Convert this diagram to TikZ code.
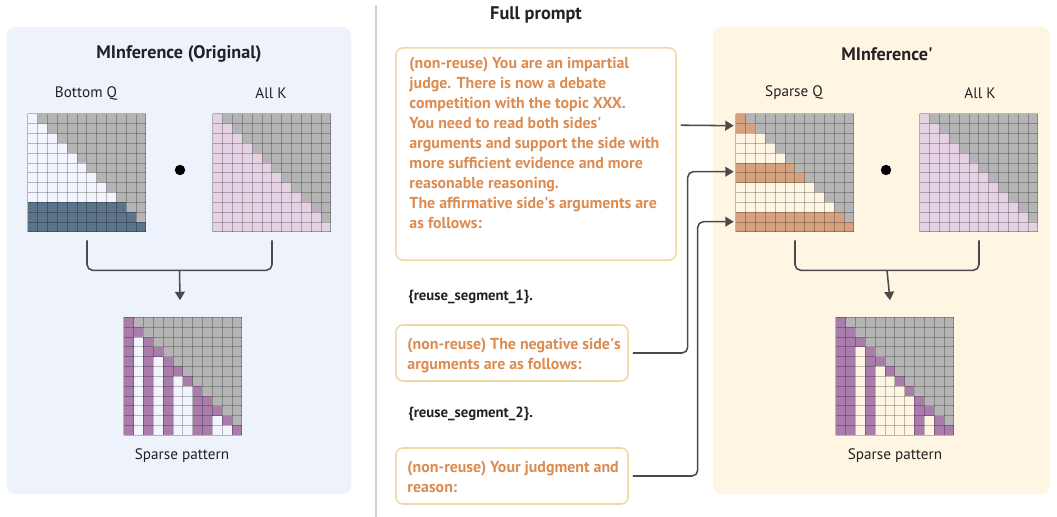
\documentclass[tikz,border=0pt]{standalone}
\usepackage{fontspec}
\setmainfont{PT Sans}
\usetikzlibrary{arrows.meta,calc,positioning}

\definecolor{panelblue}{HTML}{EEF2FB}
\definecolor{panelcream}{HTML}{FEF6E3}
\definecolor{maskgray}{HTML}{B4B4B4}
\definecolor{qlight}{HTML}{F2F5FD}
\definecolor{qdark}{HTML}{5B7489}
\definecolor{kpink}{HTML}{E4D1E4}
\definecolor{sparsepurple}{HTML}{A97CAC}
\definecolor{qorange}{HTML}{D6A17F}
\definecolor{creamcell}{HTML}{FEF6E3}
\definecolor{promptorange}{HTML}{DC8C50}
\definecolor{promptedge}{HTML}{EDD9A5}
\definecolor{linkgray}{HTML}{4A4A4A}
\definecolor{sepgray}{HTML}{CFCFCF}
\definecolor{titleblack}{HTML}{222222}

\tikzset{
  panel/.style={fill=#1, draw=none, rounded corners=6pt, inner sep=0pt},
  gridbox/.style={minimum size=2.95cm, inner sep=0pt, draw=none},
  cells/.style={shift={(#1.north west)}, x=0.24583cm, y=-0.24583cm},
  gridline/.style={draw=black, draw opacity=0.25, line width=0.4pt},
  paneltitle/.style={font=\bfseries\fontsize{12.9}{15}\selectfont, text=titleblack},
  gridlabel/.style={font=\fontsize{10.8}{13}\selectfont, text=titleblack},
  link/.style={draw=linkgray, line width=1.1pt, rounded corners=4pt},
  tip/.style={-{Triangle[length=6pt,width=7pt]}},
  promptbox/.style={draw=promptedge, line width=1.1pt, rounded corners=5pt, fill=white, inner sep=0pt},
  prompttext/.style={font=\bfseries\fontsize{11.3}{14.2}\selectfont, text=promptorange, align=left, inner sep=0pt},
  reusetext/.style={font=\bfseries\fontsize{10.5}{14.2}\selectfont, text=titleblack, inner sep=0pt},
  dotmark/.style={circle, fill=black, minimum size=0.26cm, inner sep=0pt},
}

% lower triangle (with diagonal) on a grey mask
\newcommand{\maskbase}[2]{%
  \begin{scope}[cells=#1]
    \fill[maskgray] (0,0) rectangle (12,12);
    \fill[#2] (0,0) -- (1,0) foreach \k in {1,...,11}{ -- (\k,\k) -- ({\k+1},\k)} -- (12,12) -- (0,12) -- cycle;
  \end{scope}}
\newcommand{\markrows}[3]{%
  \begin{scope}[cells=#1]
    \foreach \r in {#3} \fill[#2] (0,\r) rectangle ({\r+1},{\r+1});
  \end{scope}}
\newcommand{\markcols}[3]{%
  \begin{scope}[cells=#1]
    \foreach \c in {#3} \fill[#2] (\c,\c) rectangle ({\c+1},12);
    \foreach \k in {0,...,11} \fill[#2] (\k,\k) rectangle ({\k+1},{\k+1});
  \end{scope}}
\newcommand{\masklines}[1]{%
  \begin{scope}[cells=#1]
    \foreach \k in {0,...,12} {
      \draw[gridline] (\k,0) -- (\k,12);
      \draw[gridline] (0,\k) -- (12,\k);
    }
  \end{scope}}

\begin{document}
\begin{tikzpicture}[x=0.025cm, y=-0.025cm]
\useasboundingbox (0,0) rectangle (1057,517);

% panels
\node[panel=panelblue, minimum width=8.6cm, minimum height=11.675cm] (orig) at (179,260.5) {};
\node[panel=panelcream, minimum width=8.425cm, minimum height=11.675cm] (ours) at (881.5,260.5) {};
\draw[sepgray, line width=1.6pt] (376,5) -- (376,517);

% left: MInference (Original)
\node[paneltitle] (origtitle) at (179,54) {MInference (Original)};
\node[gridlabel] (bqlabel) at (86,93) {Bottom Q};
\node[gridlabel] (aklabel) at (271,93) {All K};
\node[gridbox] (bq) at (87,173) {};
\node[gridbox] (ak) at (272,173) {};
\node[dotmark] (dotl) at (180,170) {};
\node[gridbox] (sp) at (183,376.5) {};
\node[gridlabel] (splabel) at (182,456) {Sparse pattern};

\maskbase{bq}{qlight}
\markrows{bq}{qdark}{9,10,11}
\masklines{bq}
\maskbase{ak}{kpink}
\masklines{ak}
\maskbase{sp}{qlight}
\markcols{sp}{sparsepurple}{0,2,4,7,8}
\masklines{sp}

\coordinate (jl) at ($(bq.south)!0.5!(ak.south)+(0,38)$);
\draw[link] ($(bq.south)+(0,8)$) |- (jl) -| ($(ak.south)+(0,8)$);
\draw[link, tip] (jl) -- ($(sp.north)+(-3,-17)$);

% middle: full prompt
\node[font=\bfseries\fontsize{13}{15}\selectfont, text=titleblack] (fulltitle) at (536,15) {Full prompt};
\node[promptbox, minimum width=7cm, minimum height=5.3cm] (p1) at (536,154) {};
\node[prompttext, anchor=north west] (t1) at ($(p1.north west)+(14,10)$) {(non-reuse) You are an impartial\\
judge. There is now a debate\\
competition with the topic XXX.\\
You need to read both sides\textquotesingle\\
arguments and support the side with\\
more sufficient evidence and more\\
reasonable reasoning.\\
The affirmative side\textquotesingle s arguments are\\
as follows:};
\node[reusetext, anchor=west] (r1) at (408,297) {\{reuse\_segment\_1\}.};
\node[promptbox, minimum width=5.8cm, minimum height=1.4cm] (p2) at (512,353) {};
\node[prompttext, anchor=north west] (t2) at ($(p2.north west)+(12,14)$) {(non-reuse) The negative side\textquotesingle s\\
arguments are as follows:};
\node[reusetext, anchor=west] (r2) at (408,414) {\{reuse\_segment\_2\}.};
\node[promptbox, minimum width=5.8cm, minimum height=1.4cm] (p3) at (512,476) {};
\node[prompttext, anchor=north west] (t3) at ($(p3.north west)+(12,14)$) {(non-reuse) Your judgment and\\
reason:};

% right: MInference'
\node[paneltitle] (ourstitle) at (887,54) {MInference\textquotesingle};
\node[gridlabel] (sqlabel) at (794,93) {Sparse Q};
\node[gridlabel] (ak2label) at (980,93) {All K};
\node[gridbox] (sq) at (795,173) {};
\node[gridbox] (ak2) at (979,173) {};
\node[dotmark] (dotr) at (886,170) {};
\node[gridbox] (sp2) at (895,376.5) {};
\node[gridlabel] (sp2label) at (895,456) {Sparse pattern};

\maskbase{sq}{creamcell}
\markrows{sq}{qorange}{0,1,5,6,10,11}
\masklines{sq}
\maskbase{ak2}{kpink}
\masklines{ak2}
\maskbase{sp2}{creamcell}
\markcols{sp2}{sparsepurple}{0,1,3,8,10}
\masklines{sp2}

\coordinate (jr) at ($(sq.south)!0.5!(ak2.south)+(0,38)$);
\draw[link] ($(sq.south)+(0,8)$) |- (jr) -| ($(ak2.south)+(0,8)$);
\draw[link, tip] (jr) -- ($(sp2.north)+(-5,-17)$);

% prompt pieces feeding sparse Q rows
\coordinate (q1) at ($(sq.north west)+(-2,12)$);
\coordinate (q2) at ($(sq.north west)+(-2,58)$);
\coordinate (q3) at ($(sq.north west)+(-2,108)$);
\draw[link, tip] ($(p1.north east)+(4,78)$) -- (q1);
\draw[link, tip] ($(p2.east)+(4,0)$) -| ($(q2)+(-46,0)$) -- (q2);
\draw[link, tip] ($(p3.east)+(4,0)$) -| ($(q3)+(-36,0)$) -- (q3);
\end{tikzpicture}
\end{document}
